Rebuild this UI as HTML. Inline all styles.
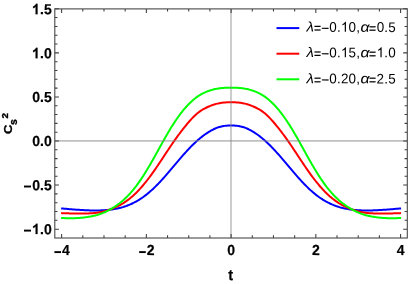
<!DOCTYPE html><html><head><meta charset="utf-8"><style>
html,body{margin:0;padding:0;background:#fff;}
body{width:409px;height:284px;position:relative;overflow:hidden;font-family:"Liberation Sans",sans-serif;color:#000;}
.yl{position:absolute;font-weight:bold;font-size:14px;line-height:14px;text-align:right;width:50px;}
.xl{position:absolute;font-weight:bold;font-size:14px;line-height:14px;text-align:center;width:40px;}
.lg{position:absolute;font-size:13.4px;line-height:14px;white-space:nowrap;letter-spacing:0.2px;}
.lg i{font-style:italic;display:inline-block;transform-origin:0 50%;}
.lg i.la{transform:scaleX(1.13);}
.lg i.al{transform:scaleX(1.18);margin-left:-0.3px;margin-right:0.3px;}
.lg u{text-decoration:none;display:inline-block;transform:translateY(1.2px) scaleX(0.9);-webkit-text-stroke:0.2px #000;}
.lg u.e1{margin-left:0.58px;margin-right:-0.58px;}
.lg s{text-decoration:none;display:inline-block;transform:translateY(1.2px);-webkit-text-stroke:0.15px #000;}
.one{color:transparent;-webkit-text-stroke:0;}
.yl,.xl,.tl{-webkit-text-stroke:0.2px #000;}
.yl,.xl,.lg,.tl{transform-origin:50% 50%;}
.m{display:inline-block;width:7px;height:1.9px;background:#000;vertical-align:3.05px;margin-right:1.0px;}
.lg b{display:inline-block;width:0.6px;}
#tx{position:absolute;left:0;top:0;width:409px;height:284px;will-change:transform;}
</style></head><body>
<svg width="409" height="284" viewBox="0 0 409 284" style="position:absolute;left:0;top:0">
<rect x="0" y="0" width="409" height="284" fill="#fff"/>
<path d="M61.11,208.38 L62.17,208.48 L63.24,208.58 L64.30,208.67 L65.36,208.77 L66.42,208.86 L67.49,208.95 L68.55,209.04 L69.61,209.13 L70.67,209.22 L71.74,209.31 L72.80,209.39 L73.86,209.48 L74.92,209.56 L75.99,209.64 L77.05,209.71 L78.11,209.79 L79.17,209.86 L80.24,209.93 L81.30,209.99 L82.36,210.06 L83.42,210.11 L84.48,210.17 L85.55,210.22 L86.61,210.27 L87.67,210.31 L88.73,210.35 L89.80,210.38 L90.86,210.41 L91.92,210.43 L92.98,210.45 L94.05,210.46 L95.11,210.47 L96.17,210.46 L97.23,210.46 L98.30,210.44 L99.36,210.42 L100.42,210.39 L101.48,210.35 L102.55,210.30 L103.61,210.24 L104.67,210.17 L105.73,210.10 L106.80,210.01 L107.86,209.91 L108.92,209.80 L109.98,209.68 L111.05,209.55 L112.11,209.40 L113.17,209.24 L114.23,209.07 L115.30,208.88 L116.36,208.68 L117.42,208.46 L118.48,208.22 L119.55,207.97 L120.61,207.71 L121.67,207.42 L122.73,207.12 L123.79,206.79 L124.86,206.45 L125.92,206.09 L126.98,205.71 L128.04,205.31 L129.11,204.88 L130.17,204.44 L131.23,203.97 L132.29,203.48 L133.36,202.96 L134.42,202.43 L135.48,201.86 L136.54,201.28 L137.61,200.67 L138.67,200.03 L139.73,199.37 L140.79,198.68 L141.86,197.96 L142.92,197.22 L143.98,196.46 L145.04,195.67 L146.11,194.85 L147.17,194.00 L148.23,193.13 L149.29,192.24 L150.36,191.32 L151.42,190.37 L152.48,189.40 L153.54,188.41 L154.61,187.39 L155.67,186.35 L156.73,185.29 L157.79,184.21 L158.85,183.10 L159.92,181.98 L160.98,180.84 L162.04,179.68 L163.10,178.51 L164.17,177.32 L165.23,176.11 L166.29,174.90 L167.35,173.67 L168.42,172.43 L169.48,171.19 L170.54,169.94 L171.60,168.68 L172.67,167.42 L173.73,166.16 L174.79,164.90 L175.85,163.64 L176.92,162.38 L177.98,161.12 L179.04,159.87 L180.10,158.63 L181.17,157.40 L182.23,156.17 L183.29,154.96 L184.35,153.76 L185.42,152.57 L186.48,151.40 L187.54,150.25 L188.60,149.11 L189.67,148.00 L190.73,146.90 L191.79,145.82 L192.85,144.77 L193.92,143.73 L194.98,142.72 L196.04,141.74 L197.10,140.78 L198.16,139.84 L199.23,138.93 L200.29,138.05 L201.35,137.19 L202.41,136.36 L203.48,135.56 L204.54,134.78 L205.60,134.03 L206.66,133.31 L207.73,132.61 L208.79,131.95 L209.85,131.30 L210.91,130.69 L211.98,130.10 L213.04,129.54 L214.10,129.02 L215.16,128.53 L216.23,128.08 L217.29,127.67 L218.35,127.29 L219.41,126.96 L220.48,126.67 L221.54,126.42 L222.60,126.21 L223.66,126.03 L224.73,125.88 L225.79,125.77 L226.85,125.68 L227.91,125.62 L228.98,125.59 L230.04,125.57 L231.10,125.56 L232.16,125.57 L233.22,125.59 L234.29,125.62 L235.35,125.68 L236.41,125.77 L237.47,125.88 L238.54,126.03 L239.60,126.21 L240.66,126.42 L241.72,126.67 L242.79,126.96 L243.85,127.29 L244.91,127.67 L245.97,128.08 L247.04,128.53 L248.10,129.02 L249.16,129.54 L250.22,130.10 L251.29,130.69 L252.35,131.30 L253.41,131.95 L254.47,132.61 L255.54,133.31 L256.60,134.03 L257.66,134.78 L258.72,135.56 L259.79,136.36 L260.85,137.19 L261.91,138.05 L262.97,138.93 L264.04,139.84 L265.10,140.78 L266.16,141.74 L267.22,142.72 L268.28,143.73 L269.35,144.77 L270.41,145.82 L271.47,146.90 L272.53,148.00 L273.60,149.11 L274.66,150.25 L275.72,151.40 L276.78,152.57 L277.85,153.76 L278.91,154.96 L279.97,156.17 L281.03,157.40 L282.10,158.63 L283.16,159.87 L284.22,161.12 L285.28,162.38 L286.35,163.64 L287.41,164.90 L288.47,166.16 L289.53,167.42 L290.60,168.68 L291.66,169.94 L292.72,171.19 L293.78,172.43 L294.85,173.67 L295.91,174.90 L296.97,176.11 L298.03,177.32 L299.10,178.51 L300.16,179.68 L301.22,180.84 L302.28,181.98 L303.35,183.10 L304.41,184.21 L305.47,185.29 L306.53,186.35 L307.59,187.39 L308.66,188.41 L309.72,189.40 L310.78,190.37 L311.84,191.32 L312.91,192.24 L313.97,193.13 L315.03,194.00 L316.09,194.85 L317.16,195.67 L318.22,196.46 L319.28,197.22 L320.34,197.96 L321.41,198.68 L322.47,199.37 L323.53,200.03 L324.59,200.67 L325.66,201.28 L326.72,201.86 L327.78,202.43 L328.84,202.96 L329.91,203.48 L330.97,203.97 L332.03,204.44 L333.09,204.88 L334.16,205.31 L335.22,205.71 L336.28,206.09 L337.34,206.45 L338.41,206.79 L339.47,207.12 L340.53,207.42 L341.59,207.71 L342.65,207.97 L343.72,208.22 L344.78,208.46 L345.84,208.68 L346.90,208.88 L347.97,209.07 L349.03,209.24 L350.09,209.40 L351.15,209.55 L352.22,209.68 L353.28,209.80 L354.34,209.91 L355.40,210.01 L356.47,210.10 L357.53,210.17 L358.59,210.24 L359.65,210.30 L360.72,210.35 L361.78,210.39 L362.84,210.42 L363.90,210.44 L364.97,210.46 L366.03,210.46 L367.09,210.47 L368.15,210.46 L369.22,210.45 L370.28,210.43 L371.34,210.41 L372.40,210.38 L373.47,210.35 L374.53,210.31 L375.59,210.27 L376.65,210.22 L377.72,210.17 L378.78,210.11 L379.84,210.06 L380.90,209.99 L381.96,209.93 L383.03,209.86 L384.09,209.79 L385.15,209.71 L386.21,209.64 L387.28,209.56 L388.34,209.48 L389.40,209.39 L390.46,209.31 L391.53,209.22 L392.59,209.13 L393.65,209.04 L394.71,208.95 L395.78,208.86 L396.84,208.77 L397.90,208.67 L398.96,208.58 L400.03,208.48 L401.09,208.38" fill="none" stroke="#0000ff" stroke-width="2.0" stroke-linejoin="round"/>
<path d="M61.11,213.11 L62.17,213.16 L63.24,213.20 L64.30,213.24 L65.36,213.27 L66.42,213.30 L67.49,213.34 L68.55,213.37 L69.61,213.39 L70.67,213.42 L71.74,213.44 L72.80,213.46 L73.86,213.48 L74.92,213.50 L75.99,213.52 L77.05,213.53 L78.11,213.54 L79.17,213.55 L80.24,213.55 L81.30,213.56 L82.36,213.56 L83.42,213.55 L84.48,213.54 L85.55,213.52 L86.61,213.50 L87.67,213.46 L88.73,213.42 L89.80,213.37 L90.86,213.31 L91.92,213.24 L92.98,213.15 L94.05,213.05 L95.11,212.94 L96.17,212.81 L97.23,212.67 L98.30,212.51 L99.36,212.33 L100.42,212.13 L101.48,211.92 L102.55,211.69 L103.61,211.44 L104.67,211.17 L105.73,210.88 L106.80,210.58 L107.86,210.25 L108.92,209.91 L109.98,209.55 L111.05,209.17 L112.11,208.76 L113.17,208.34 L114.23,207.90 L115.30,207.43 L116.36,206.94 L117.42,206.43 L118.48,205.90 L119.55,205.33 L120.61,204.75 L121.67,204.13 L122.73,203.49 L123.79,202.82 L124.86,202.12 L125.92,201.40 L126.98,200.64 L128.04,199.85 L129.11,199.04 L130.17,198.19 L131.23,197.31 L132.29,196.40 L133.36,195.45 L134.42,194.48 L135.48,193.47 L136.54,192.43 L137.61,191.35 L138.67,190.25 L139.73,189.11 L140.79,187.94 L141.86,186.73 L142.92,185.50 L143.98,184.23 L145.04,182.94 L146.11,181.62 L147.17,180.26 L148.23,178.88 L149.29,177.48 L150.36,176.05 L151.42,174.60 L152.48,173.12 L153.54,171.62 L154.61,170.11 L155.67,168.57 L156.73,167.02 L157.79,165.46 L158.85,163.88 L159.92,162.30 L160.98,160.70 L162.04,159.10 L163.10,157.49 L164.17,155.88 L165.23,154.28 L166.29,152.67 L167.35,151.07 L168.42,149.47 L169.48,147.88 L170.54,146.30 L171.60,144.74 L172.67,143.18 L173.73,141.65 L174.79,140.13 L175.85,138.63 L176.92,137.15 L177.98,135.68 L179.04,134.24 L180.10,132.82 L181.17,131.42 L182.23,130.05 L183.29,128.69 L184.35,127.36 L185.42,126.04 L186.48,124.75 L187.54,123.48 L188.60,122.23 L189.67,121.01 L190.73,119.83 L191.79,118.68 L192.85,117.57 L193.92,116.50 L194.98,115.48 L196.04,114.51 L197.10,113.59 L198.16,112.72 L199.23,111.90 L200.29,111.13 L201.35,110.41 L202.41,109.74 L203.48,109.12 L204.54,108.54 L205.60,108.00 L206.66,107.48 L207.73,106.98 L208.79,106.50 L209.85,106.05 L210.91,105.61 L211.98,105.21 L213.04,104.83 L214.10,104.49 L215.16,104.18 L216.23,103.90 L217.29,103.64 L218.35,103.41 L219.41,103.20 L220.48,103.02 L221.54,102.85 L222.60,102.71 L223.66,102.58 L224.73,102.47 L225.79,102.38 L226.85,102.31 L227.91,102.26 L228.98,102.22 L230.04,102.20 L231.10,102.19 L232.16,102.20 L233.22,102.22 L234.29,102.26 L235.35,102.31 L236.41,102.38 L237.47,102.47 L238.54,102.58 L239.60,102.71 L240.66,102.85 L241.72,103.02 L242.79,103.20 L243.85,103.41 L244.91,103.64 L245.97,103.90 L247.04,104.18 L248.10,104.49 L249.16,104.83 L250.22,105.21 L251.29,105.61 L252.35,106.05 L253.41,106.50 L254.47,106.98 L255.54,107.48 L256.60,108.00 L257.66,108.54 L258.72,109.12 L259.79,109.74 L260.85,110.41 L261.91,111.13 L262.97,111.90 L264.04,112.72 L265.10,113.59 L266.16,114.51 L267.22,115.48 L268.28,116.50 L269.35,117.57 L270.41,118.68 L271.47,119.83 L272.53,121.01 L273.60,122.23 L274.66,123.48 L275.72,124.75 L276.78,126.04 L277.85,127.36 L278.91,128.69 L279.97,130.05 L281.03,131.42 L282.10,132.82 L283.16,134.24 L284.22,135.68 L285.28,137.15 L286.35,138.63 L287.41,140.13 L288.47,141.65 L289.53,143.18 L290.60,144.74 L291.66,146.30 L292.72,147.88 L293.78,149.47 L294.85,151.07 L295.91,152.67 L296.97,154.28 L298.03,155.88 L299.10,157.49 L300.16,159.10 L301.22,160.70 L302.28,162.30 L303.35,163.88 L304.41,165.46 L305.47,167.02 L306.53,168.57 L307.59,170.11 L308.66,171.62 L309.72,173.12 L310.78,174.60 L311.84,176.05 L312.91,177.48 L313.97,178.88 L315.03,180.26 L316.09,181.62 L317.16,182.94 L318.22,184.23 L319.28,185.50 L320.34,186.73 L321.41,187.94 L322.47,189.11 L323.53,190.25 L324.59,191.35 L325.66,192.43 L326.72,193.47 L327.78,194.48 L328.84,195.45 L329.91,196.40 L330.97,197.31 L332.03,198.19 L333.09,199.04 L334.16,199.85 L335.22,200.64 L336.28,201.40 L337.34,202.12 L338.41,202.82 L339.47,203.49 L340.53,204.13 L341.59,204.75 L342.65,205.33 L343.72,205.90 L344.78,206.43 L345.84,206.94 L346.90,207.43 L347.97,207.90 L349.03,208.34 L350.09,208.76 L351.15,209.17 L352.22,209.55 L353.28,209.91 L354.34,210.25 L355.40,210.58 L356.47,210.88 L357.53,211.17 L358.59,211.44 L359.65,211.69 L360.72,211.92 L361.78,212.13 L362.84,212.33 L363.90,212.51 L364.97,212.67 L366.03,212.81 L367.09,212.94 L368.15,213.05 L369.22,213.15 L370.28,213.24 L371.34,213.31 L372.40,213.37 L373.47,213.42 L374.53,213.46 L375.59,213.50 L376.65,213.52 L377.72,213.54 L378.78,213.55 L379.84,213.56 L380.90,213.56 L381.96,213.55 L383.03,213.55 L384.09,213.54 L385.15,213.53 L386.21,213.52 L387.28,213.50 L388.34,213.48 L389.40,213.46 L390.46,213.44 L391.53,213.42 L392.59,213.39 L393.65,213.37 L394.71,213.34 L395.78,213.30 L396.84,213.27 L397.90,213.24 L398.96,213.20 L400.03,213.16 L401.09,213.11" fill="none" stroke="#ff0000" stroke-width="2.0" stroke-linejoin="round"/>
<path d="M61.11,218.01 L62.17,218.04 L63.24,218.08 L64.30,218.11 L65.36,218.15 L66.42,218.17 L67.49,218.19 L68.55,218.21 L69.61,218.21 L70.67,218.22 L71.74,218.21 L72.80,218.19 L73.86,218.17 L74.92,218.14 L75.99,218.10 L77.05,218.05 L78.11,217.99 L79.17,217.92 L80.24,217.84 L81.30,217.75 L82.36,217.65 L83.42,217.53 L84.48,217.41 L85.55,217.27 L86.61,217.12 L87.67,216.97 L88.73,216.80 L89.80,216.61 L90.86,216.42 L91.92,216.21 L92.98,215.99 L94.05,215.75 L95.11,215.50 L96.17,215.22 L97.23,214.93 L98.30,214.61 L99.36,214.27 L100.42,213.91 L101.48,213.52 L102.55,213.11 L103.61,212.67 L104.67,212.21 L105.73,211.73 L106.80,211.22 L107.86,210.68 L108.92,210.12 L109.98,209.54 L111.05,208.93 L112.11,208.31 L113.17,207.66 L114.23,206.99 L115.30,206.30 L116.36,205.58 L117.42,204.83 L118.48,204.06 L119.55,203.26 L120.61,202.42 L121.67,201.56 L122.73,200.66 L123.79,199.73 L124.86,198.76 L125.92,197.76 L126.98,196.72 L128.04,195.65 L129.11,194.53 L130.17,193.38 L131.23,192.18 L132.29,190.94 L133.36,189.67 L134.42,188.35 L135.48,187.00 L136.54,185.60 L137.61,184.16 L138.67,182.69 L139.73,181.17 L140.79,179.62 L141.86,178.04 L142.92,176.41 L143.98,174.76 L145.04,173.07 L146.11,171.34 L147.17,169.59 L148.23,167.81 L149.29,166.01 L150.36,164.18 L151.42,162.33 L152.48,160.46 L153.54,158.57 L154.61,156.67 L155.67,154.76 L156.73,152.84 L157.79,150.92 L158.85,149.00 L159.92,147.07 L160.98,145.15 L162.04,143.24 L163.10,141.34 L164.17,139.46 L165.23,137.59 L166.29,135.74 L167.35,133.91 L168.42,132.10 L169.48,130.33 L170.54,128.57 L171.60,126.85 L172.67,125.15 L173.73,123.49 L174.79,121.86 L175.85,120.27 L176.92,118.72 L177.98,117.21 L179.04,115.73 L180.10,114.29 L181.17,112.89 L182.23,111.54 L183.29,110.23 L184.35,108.96 L185.42,107.73 L186.48,106.54 L187.54,105.39 L188.60,104.27 L189.67,103.19 L190.73,102.16 L191.79,101.18 L192.85,100.24 L193.92,99.34 L194.98,98.49 L196.04,97.67 L197.10,96.90 L198.16,96.16 L199.23,95.47 L200.29,94.82 L201.35,94.20 L202.41,93.63 L203.48,93.10 L204.54,92.60 L205.60,92.12 L206.66,91.68 L207.73,91.27 L208.79,90.88 L209.85,90.52 L210.91,90.19 L211.98,89.88 L213.04,89.59 L214.10,89.33 L215.16,89.08 L216.23,88.86 L217.29,88.66 L218.35,88.48 L219.41,88.32 L220.48,88.19 L221.54,88.07 L222.60,87.98 L223.66,87.91 L224.73,87.85 L225.79,87.82 L226.85,87.79 L227.91,87.78 L228.98,87.77 L230.04,87.77 L231.10,87.77 L232.16,87.77 L233.22,87.77 L234.29,87.78 L235.35,87.79 L236.41,87.82 L237.47,87.85 L238.54,87.91 L239.60,87.98 L240.66,88.07 L241.72,88.19 L242.79,88.32 L243.85,88.48 L244.91,88.66 L245.97,88.86 L247.04,89.08 L248.10,89.33 L249.16,89.59 L250.22,89.88 L251.29,90.19 L252.35,90.52 L253.41,90.88 L254.47,91.27 L255.54,91.68 L256.60,92.12 L257.66,92.60 L258.72,93.10 L259.79,93.63 L260.85,94.20 L261.91,94.82 L262.97,95.47 L264.04,96.16 L265.10,96.90 L266.16,97.67 L267.22,98.49 L268.28,99.34 L269.35,100.24 L270.41,101.18 L271.47,102.16 L272.53,103.19 L273.60,104.27 L274.66,105.39 L275.72,106.54 L276.78,107.73 L277.85,108.96 L278.91,110.23 L279.97,111.54 L281.03,112.89 L282.10,114.29 L283.16,115.73 L284.22,117.21 L285.28,118.72 L286.35,120.27 L287.41,121.86 L288.47,123.49 L289.53,125.15 L290.60,126.85 L291.66,128.57 L292.72,130.33 L293.78,132.10 L294.85,133.91 L295.91,135.74 L296.97,137.59 L298.03,139.46 L299.10,141.34 L300.16,143.24 L301.22,145.15 L302.28,147.07 L303.35,149.00 L304.41,150.92 L305.47,152.84 L306.53,154.76 L307.59,156.67 L308.66,158.57 L309.72,160.46 L310.78,162.33 L311.84,164.18 L312.91,166.01 L313.97,167.81 L315.03,169.59 L316.09,171.34 L317.16,173.07 L318.22,174.76 L319.28,176.41 L320.34,178.04 L321.41,179.62 L322.47,181.17 L323.53,182.69 L324.59,184.16 L325.66,185.60 L326.72,187.00 L327.78,188.35 L328.84,189.67 L329.91,190.94 L330.97,192.18 L332.03,193.38 L333.09,194.53 L334.16,195.65 L335.22,196.72 L336.28,197.76 L337.34,198.76 L338.41,199.73 L339.47,200.66 L340.53,201.56 L341.59,202.42 L342.65,203.26 L343.72,204.06 L344.78,204.83 L345.84,205.58 L346.90,206.30 L347.97,206.99 L349.03,207.66 L350.09,208.31 L351.15,208.93 L352.22,209.54 L353.28,210.12 L354.34,210.68 L355.40,211.22 L356.47,211.73 L357.53,212.21 L358.59,212.67 L359.65,213.11 L360.72,213.52 L361.78,213.91 L362.84,214.27 L363.90,214.61 L364.97,214.93 L366.03,215.22 L367.09,215.50 L368.15,215.75 L369.22,215.99 L370.28,216.21 L371.34,216.42 L372.40,216.61 L373.47,216.80 L374.53,216.97 L375.59,217.12 L376.65,217.27 L377.72,217.41 L378.78,217.53 L379.84,217.65 L380.90,217.75 L381.96,217.84 L383.03,217.92 L384.09,217.99 L385.15,218.05 L386.21,218.10 L387.28,218.14 L388.34,218.17 L389.40,218.19 L390.46,218.21 L391.53,218.22 L392.59,218.21 L393.65,218.21 L394.71,218.19 L395.78,218.17 L396.84,218.15 L397.90,218.11 L398.96,218.08 L400.03,218.04 L401.09,218.01" fill="none" stroke="#00ff00" stroke-width="2.0" stroke-linejoin="round"/>
<line x1="54.8" y1="140.9" x2="407.3" y2="140.9" stroke="#7f7f7f" stroke-opacity="0.5" stroke-width="1.6"/>
<line x1="231.0" y1="8.9" x2="231.0" y2="238.0" stroke="#7f7f7f" stroke-opacity="0.5" stroke-width="1.6"/>
<path d="M61.62,238.0v-4.1M61.62,8.9v4.1M82.81,238.0v-2.7M82.81,8.9v2.7M103.99,238.0v-2.7M103.99,8.9v2.7M125.17,238.0v-2.7M125.17,8.9v2.7M146.36,238.0v-4.1M146.36,8.9v4.1M167.55,238.0v-2.7M167.55,8.9v2.7M188.73,238.0v-2.7M188.73,8.9v2.7M209.91,238.0v-2.7M209.91,8.9v2.7M231.10,238.0v-4.1M231.10,8.9v4.1M252.28,238.0v-2.7M252.28,8.9v2.7M273.47,238.0v-2.7M273.47,8.9v2.7M294.65,238.0v-2.7M294.65,8.9v2.7M315.84,238.0v-4.1M315.84,8.9v4.1M337.02,238.0v-2.7M337.02,8.9v2.7M358.21,238.0v-2.7M358.21,8.9v2.7M379.39,238.0v-2.7M379.39,8.9v2.7M400.58,238.0v-4.1M400.58,8.9v4.1M54.8,229.15h4.1M407.3,229.15h-4.1M54.8,220.34h2.7M407.3,220.34h-2.7M54.8,211.52h2.7M407.3,211.52h-2.7M54.8,202.71h2.7M407.3,202.71h-2.7M54.8,193.89h2.7M407.3,193.89h-2.7M54.8,185.07h4.1M407.3,185.07h-4.1M54.8,176.26h2.7M407.3,176.26h-2.7M54.8,167.44h2.7M407.3,167.44h-2.7M54.8,158.63h2.7M407.3,158.63h-2.7M54.8,149.81h2.7M407.3,149.81h-2.7M54.8,141.00h4.1M407.3,141.00h-4.1M54.8,132.19h2.7M407.3,132.19h-2.7M54.8,123.37h2.7M407.3,123.37h-2.7M54.8,114.55h2.7M407.3,114.55h-2.7M54.8,105.74h2.7M407.3,105.74h-2.7M54.8,96.92h4.1M407.3,96.92h-4.1M54.8,88.11h2.7M407.3,88.11h-2.7M54.8,79.29h2.7M407.3,79.29h-2.7M54.8,70.48h2.7M407.3,70.48h-2.7M54.8,61.66h2.7M407.3,61.66h-2.7M54.8,52.85h4.1M407.3,52.85h-4.1M54.8,44.03h2.7M407.3,44.03h-2.7M54.8,35.22h2.7M407.3,35.22h-2.7M54.8,26.40h2.7M407.3,26.40h-2.7M54.8,17.59h2.7M407.3,17.59h-2.7M54.8,8.77h4.1M407.3,8.77h-4.1" stroke="#3c3c3c" stroke-width="1.05" fill="none"/>
<rect x="54.8" y="8.9" width="352.5" height="229.1" fill="none" stroke="#484848" stroke-width="1.1"/>
<line x1="276.5" y1="28.1" x2="299.3" y2="28.1" stroke="#0000ff" stroke-width="2.0"/>
<line x1="276.5" y1="53.7" x2="299.3" y2="53.7" stroke="#ff0000" stroke-width="2.0"/>
<line x1="276.5" y1="79.3" x2="299.3" y2="79.3" stroke="#00ff00" stroke-width="2.0"/>
<rect x="24.0" y="185.57" width="7.0" height="1.9" fill="#000"/>
<rect x="24.0" y="229.65" width="7.0" height="1.9" fill="#000"/>
<rect x="54.42" y="251.15" width="6.6" height="1.9" fill="#000"/>
<rect x="139.16" y="251.15" width="6.6" height="1.9" fill="#000"/>
</svg>
<div id="tx">
<div class="yl" style="left:1px;top:2px;transform:translate(0.75px,0.03px) scaleY(1.04) rotate(0.2deg)"><span class="one">1</span>.5</div>
<div class="yl" style="left:1px;top:46px;transform:translate(0.75px,0.11px) scaleY(1.04) rotate(0.2deg)"><span class="one">1</span>.0</div>
<div class="yl" style="left:1px;top:89px;transform:translate(0.75px,0.86px) scaleY(1.04) rotate(0.2deg)">0.5</div>
<div class="yl" style="left:1px;top:133px;transform:translate(0.75px,0.86px) scaleY(1.04) rotate(0.2deg)">0.0</div>
<div class="yl" style="left:1px;top:178px;transform:translate(0.75px,0.02px) scaleY(1.04) rotate(0.2deg)"><span class="one">−</span>0.5</div>
<div class="yl" style="left:1px;top:221px;transform:translate(0.75px,0.91px) scaleY(1.04) rotate(0.2deg)"><span class="one">−</span><span class="one">1</span>.0</div>
<div class="xl" style="left:41px;top:242px;transform:translate(0.72px,0.90px) scaleY(1.04) rotate(0.2deg)"><span class="one">−</span>4</div>
<div class="xl" style="left:126px;top:242px;transform:translate(0.46px,0.90px) scaleY(1.04) rotate(0.2deg)"><span class="one">−</span>2</div>
<div class="xl" style="left:211px;top:242px;transform:translate(0.10px,0.90px) scaleY(1.04) rotate(0.2deg)">0</div>
<div class="xl" style="left:295px;top:242px;transform:translate(0.84px,0.90px) scaleY(1.04) rotate(0.2deg)">2</div>
<div class="xl" style="left:380px;top:242px;transform:translate(0.58px,0.90px) scaleY(1.04) rotate(0.2deg)">4</div>
<div class="lg" style="left:306px;top:20px;transform:translate(0.50px,0.60px) scaleY(1.04) rotate(0.2deg)"><i class="la">λ</i><u class="e1">=</u><s>−</s>0.<span class="one">1</span>0,<b></b><i class="al">α</i><u>=</u>0.5</div>
<div class="lg" style="left:306px;top:46px;transform:translate(0.50px,0.05px) scaleY(1.04) rotate(0.2deg)"><i class="la">λ</i><u class="e1">=</u><s>−</s>0.<span class="one">1</span>5,<b></b><i class="al">α</i><u>=</u><span class="one">1</span>.0</div>
<div class="lg" style="left:306px;top:72px;transform:translate(0.50px,0.14px) scaleY(1.04) rotate(0.2deg)"><i class="la">λ</i><u class="e1">=</u><s>−</s>0.20,<b></b><i class="al">α</i><u>=</u>2.5</div>
<div class="tl" style="position:absolute;left:220px;top:267px;transform:translate(0.70px,0.70px) scaleY(1.04) rotate(0.2deg);width:20px;text-align:center;font-weight:bold;font-size:14.5px;line-height:14px;">t</div>
<svg width="40" height="284" style="position:absolute;left:0;top:0" font-family="Liberation Sans, sans-serif" font-weight="bold" fill="#000"><g stroke="#000" stroke-width="0.35" stroke-linejoin="round"><text transform="translate(12.1,134.0) rotate(-90) scale(1.1,1)" font-size="11.8">C</text><text transform="translate(17.4,124.9) rotate(-90)" font-size="10.5">s</text><text transform="translate(8.0,118.5) rotate(-90)" font-size="9.8">2</text></g></svg>
<svg width="409" height="284" style="position:absolute;left:0;top:0;pointer-events:none"><path transform="translate(32.02,14.23) scale(0.00684,-0.00711)" d="M806 0H525V1059Q371 915 162 846V1101Q272 1137 401 1237.5Q530 1338 578 1472H806Z" fill="#000" stroke="#000" stroke-width="30"/><path transform="translate(32.02,58.31) scale(0.00684,-0.00711)" d="M806 0H525V1059Q371 915 162 846V1101Q272 1137 401 1237.5Q530 1338 578 1472H806Z" fill="#000" stroke="#000" stroke-width="30"/><path transform="translate(32.02,234.11) scale(0.00684,-0.00711)" d="M806 0H525V1059Q371 915 162 846V1101Q272 1137 401 1237.5Q530 1338 578 1472H806Z" fill="#000" stroke="#000" stroke-width="30"/><path transform="translate(340.94,31.76) scale(0.00654,-0.00680)" d="M763 0H583V1147Q518 1085 412.5 1023Q307 961 223 930V1104Q374 1175 487 1276Q600 1377 647 1472H763Z" fill="#000"/><path transform="translate(340.94,57.21) scale(0.00654,-0.00680)" d="M763 0H583V1147Q518 1085 412.5 1023Q307 961 223 930V1104Q374 1175 487 1276Q600 1377 647 1472H763Z" fill="#000"/><path transform="translate(376.64,57.21) scale(0.00654,-0.00680)" d="M763 0H583V1147Q518 1085 412.5 1023Q307 961 223 930V1104Q374 1175 487 1276Q600 1377 647 1472H763Z" fill="#000"/></svg>
</div></body></html>
